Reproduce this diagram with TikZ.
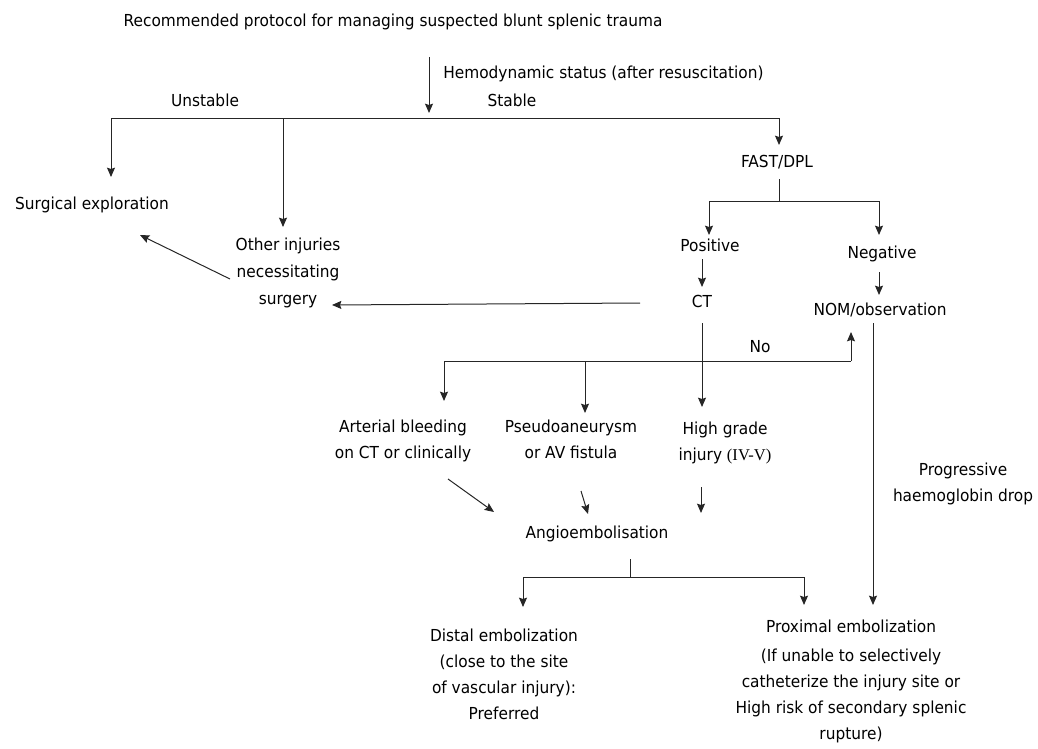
\documentclass[tikz,border=0pt]{standalone}
\usepackage{fontspec}
\setmainfont{DejaVu Sans}[FakeStretch=0.93]
\newfontfamily\rnfont{Liberation Serif}
\usetikzlibrary{arrows.meta}
\begin{document}
\begin{tikzpicture}[x=0.75pt,y=-0.75pt,
  lbl/.style={inner sep=0pt,font=\fontsize{12.4}{19.5}\selectfont,text height=0.73em,text depth=0pt},
  mlbl/.style={inner sep=0pt,align=center,font=\fontsize{12.4}{19.5}\selectfont},
  ln/.style={line width=0.75pt,draw=black!85},
  arr/.style={ln,-{Stealth[length=7pt,width=6pt,inset=1pt]}}]
\useasboundingbox (0,0) rectangle (1038,749);
% texts
\node[lbl] (title) at (393,22) {Recommended protocol for managing suspected blunt splenic trauma};
\node[lbl,anchor=west] (hemo) at (443,74) {Hemodynamic status (after resuscitation)};
\node[lbl] (unstable) at (205,102) {Unstable};
\node[lbl] (stable) at (512,102) {Stable};
\node[lbl] (fast) at (777,163) {FAST/DPL};
\node[lbl] (surg) at (92,205) {Surgical exploration};
\node[mlbl] (other) at (288,273) {Other injuries\\[1pt]necessitating\\[1pt]surgery};
\node[lbl] (pos) at (710,247) {Positive};
\node[lbl] (neg) at (882,254) {Negative};
\node[lbl] (ct) at (702,303) {CT};
\node[lbl] (nom) at (880,311) {NOM/observation};
\node[lbl] (no) at (760,348) {No};
\node[mlbl] (art) at (403,441) {Arterial bleeding\\on CT or clinically};
\node[mlbl] (pseudo) at (571,439) {Pseudoaneurysm\\or AV fistula};
\node[mlbl] (high) at (725,443) {High grade\\injury {\rnfont(IV-V)}};
\node[mlbl] (prog) at (963,484) {Progressive\\haemoglobin drop};
\node[lbl] (angio) at (597,534) {Angioembolisation};
\node[mlbl] (distal) at (504,674) {Distal embolization\\(close to the site\\of vascular injury):\\Preferred};
\node[lbl] (prox) at (851,628) {Proximal embolization};
\node[mlbl] (ifun) at (851,696) {(If unable to selectively\\catheterize the injury site or\\High risk of secondary splenic\\rupture)};
% junction coordinates
\coordinate (t0) at (429,57);
\coordinate (t1) at (429,113);
\coordinate (b1L) at (111,118);
\coordinate (b1M) at (283,118);
\coordinate (b1R) at (779,118);
\coordinate (surgT) at (111,177);
\coordinate (otherT) at (283,227);
\coordinate (fastT) at (779,145);
\coordinate (f0) at (779,179);
\coordinate (f1) at (779,201);
\coordinate (b2L) at (709,201);
\coordinate (b2R) at (879,201);
\coordinate (posT) at (709,235);
\coordinate (negT) at (879,235);
\coordinate (p0) at (702,259);
\coordinate (p1) at (702,287);
\coordinate (n0) at (879,272);
\coordinate (n1) at (879,295);
\coordinate (c0) at (640,303);
\coordinate (c1) at (332,305);
\coordinate (o0) at (230,279);
\coordinate (o1) at (140,235);
\coordinate (cd0) at (702,323);
\coordinate (cd1) at (702,407);
\coordinate (noL) at (444,361);
\coordinate (noM) at (585,361);
\coordinate (noR) at (851,361);
\coordinate (noT) at (851,332);
\coordinate (artT) at (444,401);
\coordinate (psT) at (585,413);
\coordinate (nd0) at (873,323);
\coordinate (nd1) at (873,605);
\coordinate (a0) at (448,479);
\coordinate (a1) at (494,512);
\coordinate (ps0) at (581,491);
\coordinate (ps1) at (588,514);
\coordinate (h0) at (701,487);
\coordinate (h1) at (701,513);
\coordinate (g0) at (630,559);
\coordinate (g1) at (630,577);
\coordinate (b3L) at (523,577);
\coordinate (b3R) at (804,577);
\coordinate (disT) at (523,607);
\coordinate (proT) at (804,605);
% connectors
\draw[arr] (t0) -- (t1);
\draw[ln] (b1L) -- (b1R);
\draw[arr] (b1L) -- (surgT);
\draw[arr] (b1M) -- (otherT);
\draw[arr] (b1R) -- (fastT);
\draw[ln] (f0) -- (f1);
\draw[ln] (b2L) -- (b2R);
\draw[arr] (b2L) -- (posT);
\draw[arr] (b2R) -- (negT);
\draw[arr] (p0) -- (p1);
\draw[arr] (n0) -- (n1);
\draw[arr] (c0) -- (c1);
\draw[arr] (o0) -- (o1);
\draw[arr] (cd0) -- (cd1);
\draw[ln] (noL) -- (noR);
\draw[arr] (noR) -- (noT);
\draw[arr] (noL) -- (artT);
\draw[arr] (noM) -- (psT);
\draw[arr] (nd0) -- (nd1);
\draw[arr] (a0) -- (a1);
\draw[arr] (ps0) -- (ps1);
\draw[arr] (h0) -- (h1);
\draw[ln] (g0) -- (g1);
\draw[ln] (b3L) -- (b3R);
\draw[arr] (b3L) -- (disT);
\draw[arr] (b3R) -- (proT);
\end{tikzpicture}
\end{document}
